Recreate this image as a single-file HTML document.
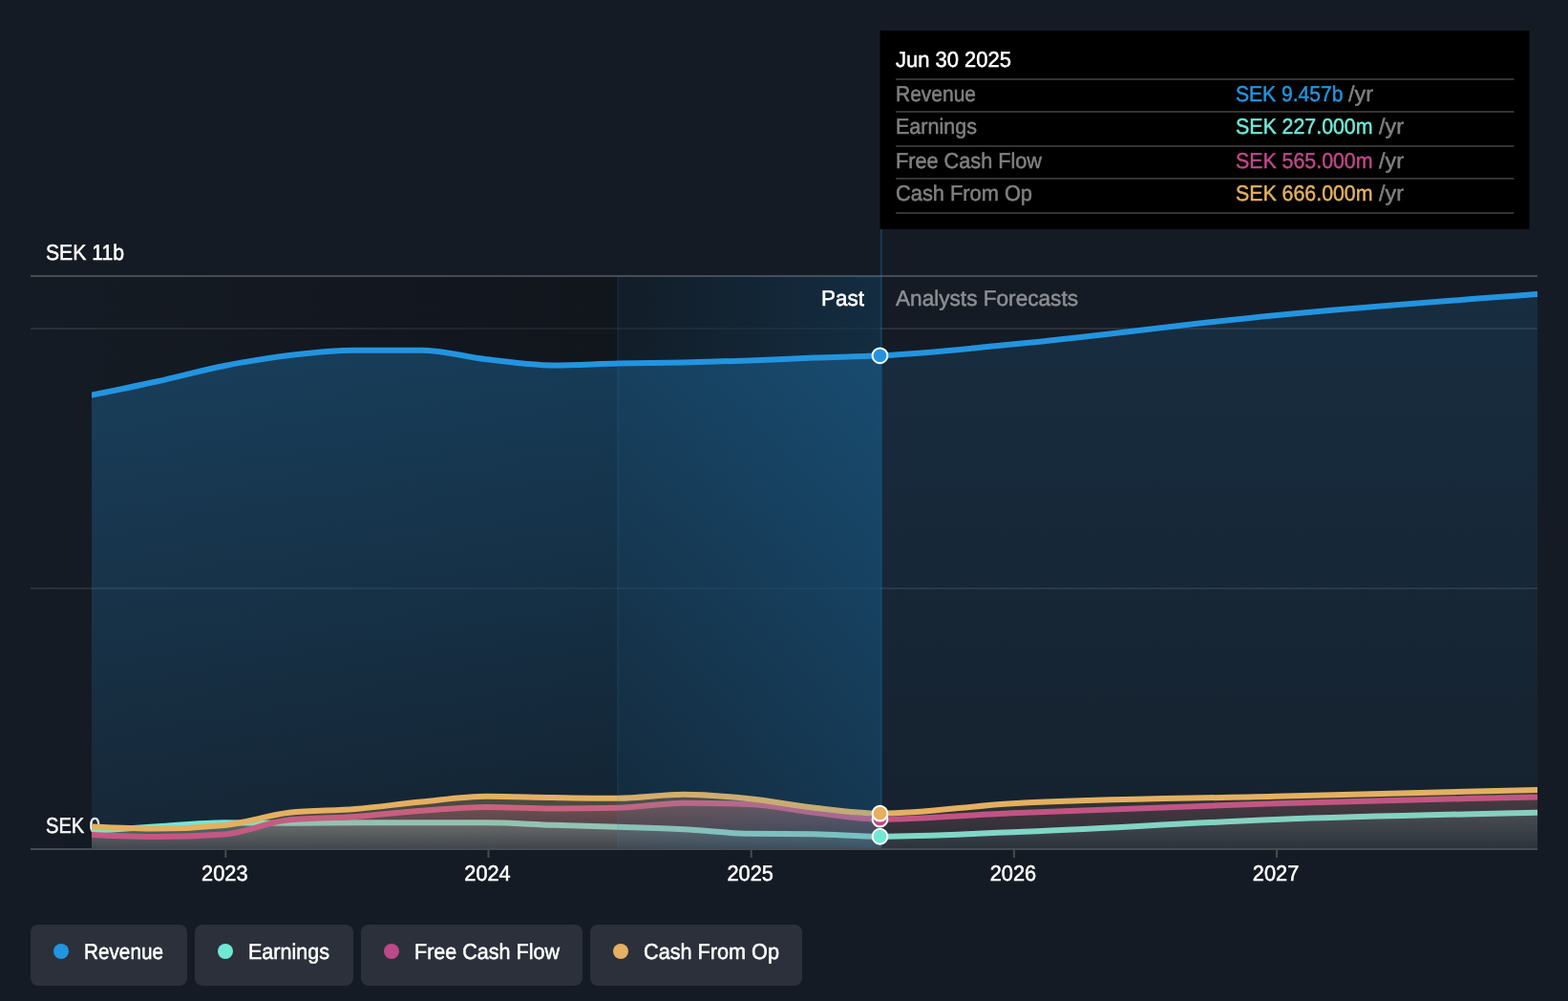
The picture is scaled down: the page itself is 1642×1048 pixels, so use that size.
<!DOCTYPE html>
<html lang="en">
<head>
<meta charset="utf-8">
<title>Earnings and Revenue Growth</title>
<style>
html,body{margin:0;padding:0;background:#151B24;}
body{width:1642px;height:1048px;overflow:hidden;position:relative;font-family:"Liberation Sans",sans-serif;}
svg{display:block;position:absolute;left:0;top:0;}
text{font-family:"Liberation Sans",sans-serif;font-size:22.8px;stroke-linejoin:round;text-rendering:geometricPrecision;}
</style>
</head>
<body>
<svg role="img" aria-label="Earnings and revenue growth chart" width="1642" height="1048" viewBox="0 0 1642 1048">
<defs>
<linearGradient id="gPast" x1="0" y1="0" x2="1" y2="0">
<stop offset="0" stop-color="#0c0e13" stop-opacity="0"/>
<stop offset="1" stop-color="#0c0e13" stop-opacity="0.62"/>
</linearGradient>
<linearGradient id="gHi" x1="0" y1="0" x2="1" y2="0">
<stop offset="0" stop-color="#2394DF" stop-opacity="0.06"/>
<stop offset="1" stop-color="#2394DF" stop-opacity="0.20"/>
</linearGradient>
<linearGradient id="ga1" gradientUnits="userSpaceOnUse" x1="0" y1="366.7" x2="0" y2="888.5"><stop offset="0" stop-color="#2394DF" stop-opacity="0.3"/><stop offset="1" stop-color="#2394DF" stop-opacity="0.1"/></linearGradient>
<linearGradient id="ga2" gradientUnits="userSpaceOnUse" x1="0" y1="308" x2="0" y2="888.5"><stop offset="0" stop-color="#2394DF" stop-opacity="0.15"/><stop offset="1" stop-color="#2394DF" stop-opacity="0.05"/></linearGradient>
<linearGradient id="ga3" gradientUnits="userSpaceOnUse" x1="0" y1="861.25" x2="0" y2="888.5"><stop offset="0" stop-color="#71E7D6" stop-opacity="0.3"/><stop offset="1" stop-color="#71E7D6" stop-opacity="0.1"/></linearGradient>
<linearGradient id="ga4" gradientUnits="userSpaceOnUse" x1="0" y1="850.75" x2="0" y2="888.5"><stop offset="0" stop-color="#71E7D6" stop-opacity="0.15"/><stop offset="1" stop-color="#71E7D6" stop-opacity="0.05"/></linearGradient>
<linearGradient id="ga5" gradientUnits="userSpaceOnUse" x1="0" y1="840.75" x2="0" y2="888.5"><stop offset="0" stop-color="#BE4888" stop-opacity="0.3"/><stop offset="1" stop-color="#BE4888" stop-opacity="0.1"/></linearGradient>
<linearGradient id="ga6" gradientUnits="userSpaceOnUse" x1="0" y1="834.5" x2="0" y2="888.5"><stop offset="0" stop-color="#BE4888" stop-opacity="0.15"/><stop offset="1" stop-color="#BE4888" stop-opacity="0.05"/></linearGradient>
<linearGradient id="ga7" gradientUnits="userSpaceOnUse" x1="0" y1="831.75" x2="0" y2="888.5"><stop offset="0" stop-color="#E4B061" stop-opacity="0.3"/><stop offset="1" stop-color="#E4B061" stop-opacity="0.1"/></linearGradient>
<linearGradient id="ga8" gradientUnits="userSpaceOnUse" x1="0" y1="827" x2="0" y2="888.5"><stop offset="0" stop-color="#E4B061" stop-opacity="0.15"/><stop offset="1" stop-color="#E4B061" stop-opacity="0.05"/></linearGradient>
<clipPath id="clipPlot"><rect x="96" y="0" width="1514" height="1048"/></clipPath>
</defs>
<rect x="0" y="0" width="1642" height="1048" fill="#151B24"/>
<g id="y-axis-labels">
<text x="48" y="271.8" fill="#fff" stroke="#fff" stroke-width="0.5" textLength="82" lengthAdjust="spacingAndGlyphs">SEK 11b</text>
<text x="48" y="871.7" fill="#fff" stroke="#fff" stroke-width="0.5" textLength="57" lengthAdjust="spacingAndGlyphs">SEK 0</text>
</g>
<g id="gridlines">
<rect x="32" y="288" width="1578" height="2" fill="#474b52"/>
<rect x="32" y="343" width="1578" height="2" fill="#2b3039"/>
<rect x="32" y="615" width="1578" height="2" fill="#2b3039"/>
</g>
<g id="plot">
<rect x="32" y="290" width="890.5" height="598.5" fill="url(#gPast)"/>
<path d="M96.00,413.60C119.00,408.93 142.00,404.26 165.00,399.20C188.33,394.07 211.67,387.58 235.00,383.00C257.67,378.56 280.33,374.71 303.00,372.00C326.00,369.25 349.00,366.70 372.00,366.70C395.00,366.70 418.00,366.70 441.00,366.70C464.00,366.70 487.00,373.57 510.00,376.20C533.00,378.83 556.00,382.50 579.00,382.50C601.67,382.50 624.33,381.00 647.00,380.50C670.00,379.99 693.00,380.00 716.00,379.50C739.00,379.00 762.00,378.34 785.00,377.50C807.67,376.67 830.33,375.36 853.00,374.50C876.00,373.62 899.00,372.96 922.00,372.30L922.00,888.5L96.00,888.5Z" fill="url(#ga1)"/>
<path d="M922.00,372.30C968.00,368.60 1014.00,364.90 1060.00,360.60C1151.67,352.04 1243.33,338.97 1335.00,330.20C1426.67,321.43 1518.33,314.72 1610.00,308.00L1610.00,888.5L922.00,888.5Z" fill="url(#ga2)"/>
<path d="M90.00,414.85L96.00,413.60C119.00,408.93 142.00,404.26 165.00,399.20C188.33,394.07 211.67,387.58 235.00,383.00C257.67,378.56 280.33,374.71 303.00,372.00C326.00,369.25 349.00,366.70 372.00,366.70C395.00,366.70 418.00,366.70 441.00,366.70C464.00,366.70 487.00,373.57 510.00,376.20C533.00,378.83 556.00,382.50 579.00,382.50C601.67,382.50 624.33,381.00 647.00,380.50C670.00,379.99 693.00,380.00 716.00,379.50C739.00,379.00 762.00,378.34 785.00,377.50C807.67,376.67 830.33,375.36 853.00,374.50C876.00,373.62 899.00,373.44 922.00,372.30C968.00,370.02 1014.00,364.90 1060.00,360.60C1151.67,352.04 1243.33,338.97 1335.00,330.20C1426.67,321.43 1518.33,314.72 1610.00,308.00L1616.00,307.52" fill="none" stroke="#2394DF" stroke-width="6" stroke-linejoin="round" clip-path="url(#clipPlot)"/>
<path d="M96.00,870.00C119.00,868.37 142.00,866.74 165.00,865.30C188.33,863.84 211.67,861.30 235.00,861.30C257.67,861.30 280.33,861.75 303.00,861.75C326.00,861.75 349.00,861.25 372.00,861.25C395.00,861.25 418.00,861.25 441.00,861.25C464.00,861.25 487.00,861.25 510.00,861.25C533.00,861.25 556.00,863.00 579.00,863.75C601.67,864.49 624.33,865.01 647.00,865.75C670.00,866.50 693.00,867.08 716.00,868.25C739.00,869.42 762.00,872.41 785.00,872.75C807.67,873.08 830.33,872.92 853.00,873.25C876.00,873.59 899.00,874.67 922.00,875.75L922.00,888.5L96.00,888.5Z" fill="url(#ga3)"/>
<path d="M922.00,875.75C968.00,874.37 1014.00,872.99 1060.00,871.25C1151.67,867.78 1243.33,861.42 1335.00,858.00C1426.67,854.58 1518.33,852.67 1610.00,850.75L1610.00,888.5L922.00,888.5Z" fill="url(#ga4)"/>
<path d="M90.00,870.41L96.00,870.00C119.00,868.37 142.00,866.74 165.00,865.30C188.33,863.84 211.67,861.30 235.00,861.30C257.67,861.30 280.33,861.75 303.00,861.75C326.00,861.75 349.00,861.25 372.00,861.25C395.00,861.25 418.00,861.25 441.00,861.25C464.00,861.25 487.00,861.25 510.00,861.25C533.00,861.25 556.00,863.00 579.00,863.75C601.67,864.49 624.33,865.01 647.00,865.75C670.00,866.50 693.00,867.08 716.00,868.25C739.00,869.42 762.00,872.41 785.00,872.75C807.67,873.08 830.33,872.92 853.00,873.25C876.00,873.59 899.00,875.75 922.00,875.75C968.00,875.75 1014.00,872.99 1060.00,871.25C1151.67,867.78 1243.33,861.42 1335.00,858.00C1426.67,854.58 1518.33,852.67 1610.00,850.75L1616.00,850.59" fill="none" stroke="#71E7D6" stroke-width="6" stroke-linejoin="round" clip-path="url(#clipPlot)"/>
<path d="M96.00,874.00C119.00,875.00 142.00,876.00 165.00,876.00C188.33,876.00 211.67,875.17 235.00,873.50C257.67,871.88 280.33,860.47 303.00,858.30C326.00,856.10 349.00,856.59 372.00,855.00C395.00,853.41 418.00,850.42 441.00,848.75C464.00,847.08 487.00,845.00 510.00,845.00C533.00,845.00 556.00,846.50 579.00,846.50C601.67,846.50 624.33,846.25 647.00,845.75C670.00,845.24 693.00,840.75 716.00,840.75C739.00,840.75 762.00,841.17 785.00,842.00C807.67,842.82 830.33,848.15 853.00,850.75C876.00,853.39 899.00,855.55 922.00,857.70L922.00,888.5L96.00,888.5Z" fill="url(#ga5)"/>
<path d="M922.00,857.70C968.00,855.47 1014.00,853.24 1060.00,851.25C1151.67,847.28 1243.33,844.04 1335.00,841.25C1426.67,838.46 1518.33,836.48 1610.00,834.50L1610.00,888.5L922.00,888.5Z" fill="url(#ga6)"/>
<path d="M90.00,873.83L96.00,874.00C119.00,875.00 142.00,876.00 165.00,876.00C188.33,876.00 211.67,875.17 235.00,873.50C257.67,871.88 280.33,860.47 303.00,858.30C326.00,856.10 349.00,856.59 372.00,855.00C395.00,853.41 418.00,850.42 441.00,848.75C464.00,847.08 487.00,845.00 510.00,845.00C533.00,845.00 556.00,846.50 579.00,846.50C601.67,846.50 624.33,846.25 647.00,845.75C670.00,845.24 693.00,840.75 716.00,840.75C739.00,840.75 762.00,841.17 785.00,842.00C807.67,842.82 830.33,848.15 853.00,850.75C876.00,853.39 899.00,857.70 922.00,857.70C968.00,857.70 1014.00,853.24 1060.00,851.25C1151.67,847.28 1243.33,844.04 1335.00,841.25C1426.67,838.46 1518.33,836.48 1610.00,834.50L1616.00,834.35" fill="none" stroke="#BE4888" stroke-width="6" stroke-linejoin="round" clip-path="url(#clipPlot)"/>
<path d="M96.00,865.50C119.00,866.50 142.00,867.50 165.00,867.50C188.33,867.50 211.67,866.33 235.00,864.00C257.67,861.73 280.33,853.30 303.00,850.80C326.00,848.27 349.00,848.88 372.00,847.00C395.00,845.12 418.00,841.71 441.00,839.50C464.00,837.29 487.00,833.75 510.00,833.75C533.00,833.75 556.00,834.67 579.00,835.00C601.67,835.33 624.33,835.75 647.00,835.75C670.00,835.75 693.00,831.75 716.00,831.75C739.00,831.75 762.00,833.89 785.00,836.25C807.67,838.58 830.33,843.18 853.00,845.75C876.00,848.35 899.00,850.03 922.00,851.70L922.00,888.5L96.00,888.5Z" fill="url(#ga7)"/>
<path d="M922.00,851.70C968.00,847.73 1014.00,843.76 1060.00,841.25C1151.67,836.25 1243.33,836.12 1335.00,833.75C1426.67,831.38 1518.33,829.19 1610.00,827.00L1610.00,888.5L922.00,888.5Z" fill="url(#ga8)"/>
<path d="M90.00,865.33L96.00,865.50C119.00,866.50 142.00,867.50 165.00,867.50C188.33,867.50 211.67,866.33 235.00,864.00C257.67,861.73 280.33,853.30 303.00,850.80C326.00,848.27 349.00,848.88 372.00,847.00C395.00,845.12 418.00,841.71 441.00,839.50C464.00,837.29 487.00,833.75 510.00,833.75C533.00,833.75 556.00,834.67 579.00,835.00C601.67,835.33 624.33,835.75 647.00,835.75C670.00,835.75 693.00,831.75 716.00,831.75C739.00,831.75 762.00,833.89 785.00,836.25C807.67,838.58 830.33,843.18 853.00,845.75C876.00,848.35 899.00,851.70 922.00,851.70C968.00,851.70 1014.00,843.76 1060.00,841.25C1151.67,836.25 1243.33,836.12 1335.00,833.75C1426.67,831.38 1518.33,829.19 1610.00,827.00L1616.00,826.85" fill="none" stroke="#E4B061" stroke-width="6" stroke-linejoin="round" clip-path="url(#clipPlot)"/>
</g>
<g id="hover-highlight">
<rect x="647" y="289" width="275.5" height="599.5" fill="url(#gHi)"/>
<rect x="646" y="289" width="2" height="599.5" fill="#2394DF" fill-opacity="0.10"/>
<rect x="921.8" y="240" width="2" height="648.5" fill="#2394DF" fill-opacity="0.26"/>
</g>
<g id="x-axis">
<rect x="32" y="888" width="1578" height="2" fill="#474b52"/>
<rect x="235.30" y="890" width="2" height="8" fill="#474b52"/>
<rect x="510.50" y="890" width="2" height="8" fill="#474b52"/>
<rect x="785.70" y="890" width="2" height="8" fill="#474b52"/>
<rect x="1060.90" y="890" width="2" height="8" fill="#474b52"/>
<rect x="1336.05" y="890" width="2" height="8" fill="#474b52"/>
<text x="211.1" y="921.7" fill="#fff" stroke="#fff" stroke-width="0.5" textLength="48.4" lengthAdjust="spacingAndGlyphs">2023</text>
<text x="486.3" y="921.7" fill="#fff" stroke="#fff" stroke-width="0.5" textLength="48.4" lengthAdjust="spacingAndGlyphs">2024</text>
<text x="761.5" y="921.7" fill="#fff" stroke="#fff" stroke-width="0.5" textLength="48.4" lengthAdjust="spacingAndGlyphs">2025</text>
<text x="1036.7" y="921.7" fill="#fff" stroke="#fff" stroke-width="0.5" textLength="48.4" lengthAdjust="spacingAndGlyphs">2026</text>
<text x="1311.85" y="921.7" fill="#fff" stroke="#fff" stroke-width="0.5" textLength="48.4" lengthAdjust="spacingAndGlyphs">2027</text>
</g>
<g id="period-labels">
<text x="860" y="320" fill="#fff" stroke="#fff" stroke-width="0.5" textLength="45" lengthAdjust="spacingAndGlyphs">Past</text>
<text x="938" y="320" fill="#8b8e93" stroke="#8b8e93" stroke-width="0.5" textLength="191" lengthAdjust="spacingAndGlyphs">Analysts Forecasts</text>
</g>
<g id="markers">
<circle cx="921.5" cy="875.75" r="7.9" fill="#71E7D6" stroke="#fff" stroke-width="2"/>
<circle cx="921.5" cy="857.7" r="7.9" fill="#BE4888" stroke="#fff" stroke-width="2"/>
<circle cx="921.5" cy="851.7" r="7.9" fill="#E4B061" stroke="#fff" stroke-width="2"/>
<circle cx="921.5" cy="372.3" r="7.9" fill="#2394DF" stroke="#fff" stroke-width="2"/>
</g>
<g id="tooltip">
<rect x="921.5" y="32" width="680" height="208" fill="#000"/>
<text x="938" y="69.8" fill="#fff" stroke="#fff" stroke-width="0.5" textLength="121" lengthAdjust="spacingAndGlyphs">Jun 30 2025</text>
<rect x="938" y="82" width="647.5" height="2" fill="#333"/>
<rect x="938" y="116" width="647.5" height="2" fill="#333"/>
<rect x="938" y="152" width="647.5" height="2" fill="#333"/>
<rect x="938" y="186" width="647.5" height="2" fill="#333"/>
<rect x="938" y="222" width="647.5" height="2" fill="#333"/>
<text x="938" y="105.7" fill="#808080" stroke="#808080" stroke-width="0.5" textLength="84" lengthAdjust="spacingAndGlyphs">Revenue</text>
<text x="1294" y="105.7" fill="#2394DF" stroke="#2394DF" stroke-width="0.5" textLength="112.5" lengthAdjust="spacingAndGlyphs">SEK 9.457b</text>
<text x="1412" y="105.7" fill="#808080" stroke="#808080" stroke-width="0.5" textLength="26" lengthAdjust="spacingAndGlyphs">/yr</text>
<text x="938" y="139.7" fill="#808080" stroke="#808080" stroke-width="0.5" textLength="85" lengthAdjust="spacingAndGlyphs">Earnings</text>
<text x="1294" y="139.7" fill="#71E7D6" stroke="#71E7D6" stroke-width="0.5" textLength="143.5" lengthAdjust="spacingAndGlyphs">SEK 227.000m</text>
<text x="1444" y="139.7" fill="#808080" stroke="#808080" stroke-width="0.5" textLength="26" lengthAdjust="spacingAndGlyphs">/yr</text>
<text x="938" y="175.7" fill="#808080" stroke="#808080" stroke-width="0.5" textLength="153" lengthAdjust="spacingAndGlyphs">Free Cash Flow</text>
<text x="1294" y="175.7" fill="#BE4888" stroke="#BE4888" stroke-width="0.5" textLength="143.5" lengthAdjust="spacingAndGlyphs">SEK 565.000m</text>
<text x="1444" y="175.7" fill="#808080" stroke="#808080" stroke-width="0.5" textLength="26" lengthAdjust="spacingAndGlyphs">/yr</text>
<text x="938" y="209.7" fill="#808080" stroke="#808080" stroke-width="0.5" textLength="143" lengthAdjust="spacingAndGlyphs">Cash From Op</text>
<text x="1294" y="209.7" fill="#E4B061" stroke="#E4B061" stroke-width="0.5" textLength="143.5" lengthAdjust="spacingAndGlyphs">SEK 666.000m</text>
<text x="1444" y="209.7" fill="#808080" stroke="#808080" stroke-width="0.5" textLength="26" lengthAdjust="spacingAndGlyphs">/yr</text>
</g>
<g id="legend">
<rect x="32" y="968" width="164" height="64" rx="8" ry="8" fill="#2b303a"/>
<circle cx="64" cy="996" r="8" fill="#2394DF"/>
<text x="88" y="1004" fill="#fff" stroke="#fff" stroke-width="0.5" textLength="83" lengthAdjust="spacingAndGlyphs">Revenue</text>
<rect x="204" y="968" width="166" height="64" rx="8" ry="8" fill="#2b303a"/>
<circle cx="236" cy="996" r="8" fill="#71E7D6"/>
<text x="260" y="1004" fill="#fff" stroke="#fff" stroke-width="0.5" textLength="85" lengthAdjust="spacingAndGlyphs">Earnings</text>
<rect x="378" y="968" width="232" height="64" rx="8" ry="8" fill="#2b303a"/>
<circle cx="410" cy="996" r="8" fill="#BE4888"/>
<text x="434" y="1004" fill="#fff" stroke="#fff" stroke-width="0.5" textLength="152" lengthAdjust="spacingAndGlyphs">Free Cash Flow</text>
<rect x="618" y="968" width="222" height="64" rx="8" ry="8" fill="#2b303a"/>
<circle cx="650" cy="996" r="8" fill="#E4B061"/>
<text x="674" y="1004" fill="#fff" stroke="#fff" stroke-width="0.5" textLength="142" lengthAdjust="spacingAndGlyphs">Cash From Op</text>
</g>
</svg>
</body>
</html>
